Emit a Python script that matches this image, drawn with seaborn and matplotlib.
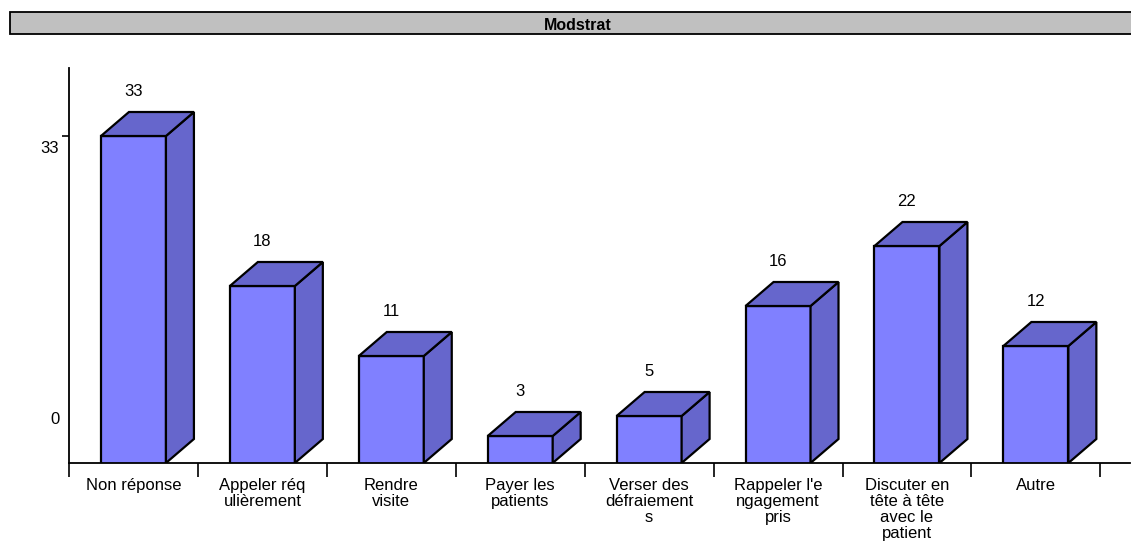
import matplotlib
matplotlib.use("Agg")
import matplotlib.pyplot as plt
import seaborn as sns
from matplotlib.patches import Polygon, Rectangle

categories = ["Non réponse", "Appeler réq\nulièrement", "Rendre\nvisite", "Payer les\npatients",
              "Verser des\ndéfraiement\ns", "Rappeler l'e\nngagement\npris",
              "Discuter en\ntête à tête\navec le\npatient", "Autre"]
values = [33, 18, 11, 3, 5, 16, 22, 12]
ytick_labels = ["0", "33"]

front = "#8080FF"
shade = "#6666CC"

sns.set_style("white")
plt.rcParams["font.family"] = ["Liberation Sans", "DejaVu Sans"]
plt.rcParams["text.color"] = "black"
plt.rcParams["xtick.color"] = "black"
plt.rcParams["ytick.color"] = "black"

fig = plt.figure(figsize=(11.31, 5.5), dpi=100)
ax = fig.add_axes([69 / 1131, 87 / 550, (1130 - 69) / 1131, 395 / 550])

base = 0.3
w = 0.504
dx, dy = 0.217, 2.4
lw = 1.6

sns.barplot(x=list(range(len(values))), y=values, color=front, width=w,
            edgecolor="black", linewidth=lw, saturation=1, ax=ax, native_scale=True)

for i, v in enumerate(values):
    x0, x1 = i - w / 2, i + w / 2
    side = Polygon([(x1, base), (x1 + dx, base + dy), (x1 + dx, v + dy), (x1, v)],
                   closed=True, facecolor=shade, edgecolor="black", lw=lw, zorder=3)
    top = Polygon([(x0, v), (x0 + dx, v + dy), (x1 + dx, v + dy), (x1, v)],
                  closed=True, facecolor=shade, edgecolor="black", lw=lw, zorder=3)
    ax.add_patch(side)
    ax.add_patch(top)
    ax.text(i, v + 4.4, str(v), ha="center", va="center", fontsize=12)

ax.set_xlim(-0.492, 7.73)
ax.set_ylim(base, 39.8)

ax.set_xticks(range(len(categories)))
ax.set_xticklabels(categories, fontsize=12, linespacing=1.08, va="top")
ax.set_xticks([i + 0.5 for i in range(-1, len(categories))], minor=True)
ax.tick_params(axis="x", which="major", length=0, pad=11, labelcolor="black")
ax.tick_params(axis="x", which="minor", length=10, width=1.2, color="black", direction="out", bottom=True)

ax.set_yticks([4.8, 31.9])
ax.set_yticklabels(ytick_labels, fontsize=12)
ax.set_yticks([33], minor=True)
ax.tick_params(axis="y", which="major", length=0, pad=7, labelcolor="black")
ax.tick_params(axis="y", which="minor", length=5, width=1.2, color="black", direction="out", left=True)

for s in ["top", "right"]:
    ax.spines[s].set_visible(False)
for s in ["left", "bottom"]:
    ax.spines[s].set_color("black")
    ax.spines[s].set_linewidth(1.3)
ax.set_xlabel("")
ax.set_ylabel("")

fig.patches.append(Rectangle((10 / 1131, 516 / 550), 1.0, 22 / 550, transform=fig.transFigure,
                             facecolor="#C0C0C0", edgecolor="black", lw=1.3, zorder=0))
fig.text(578 / 1131, 525 / 550, "Modstrat", ha="center", va="center", fontsize=11.5,
         fontweight="bold", color="black")

fig.savefig("out.png", dpi=100)
